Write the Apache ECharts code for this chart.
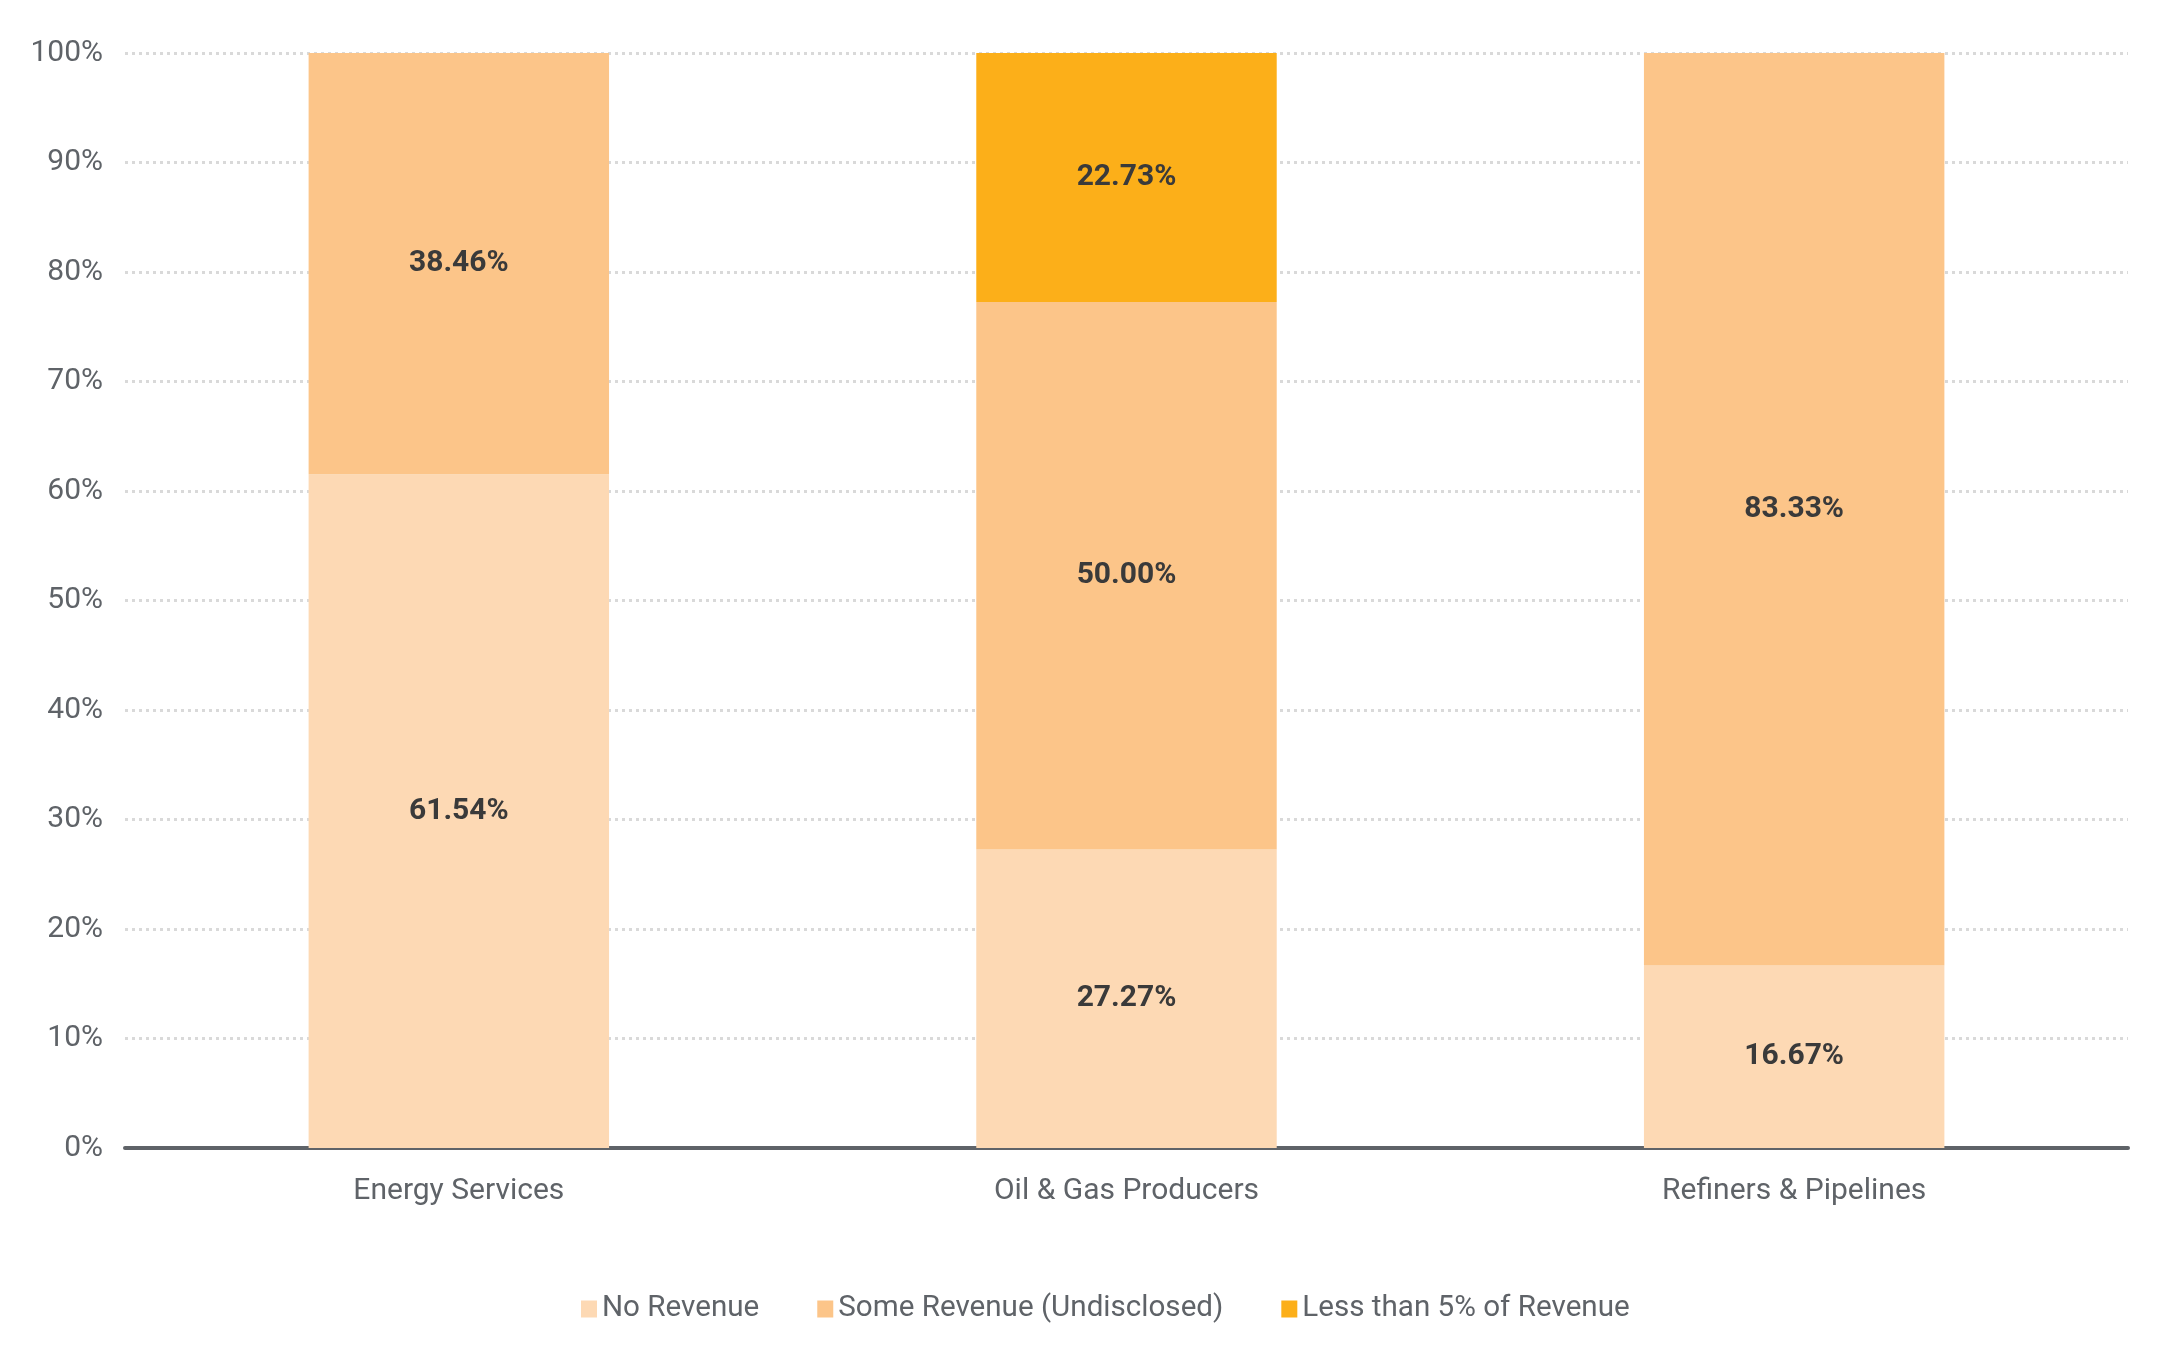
<!DOCTYPE html>
<html>
<head>
<meta charset="utf-8">
<style>
  html, body { margin: 0; padding: 0; background: #fff; }
  #chart { width: 2173px; height: 1355px; }
</style>
<script src="https://cdn.jsdelivr.net/npm/echarts@6/dist/echarts.min.js"></script>
</head>
<body>
<div id="chart"></div>
<script>
const categories = ['Energy Services', 'Oil & Gas Producers', 'Refiners & Pipelines'];
const seriesNames = ['No Revenue', 'Some Revenue (Undisclosed)', 'Less than 5% of Revenue'];
const noRevenue = [61.54, 27.27, 16.67];
const someRevenue = [38.46, 50.00, 83.33];
const lessThan5 = [null, 22.73, null];
const colors = ['#FDD9B4', '#FCC589', '#FCAF19'];
const yTicks = [0, 10, 20, 30, 40, 50, 60, 70, 80, 90, 100];

const FONT = 'Roboto';
const chart = echarts.init(document.getElementById('chart'));

function makeSeries(name, data, color) {
  return {
    name: name,
    type: 'bar',
    stack: 'total',
    data: data,
    barWidth: '45%',
    itemStyle: { color: color },
    label: {
      show: true,
      position: 'inside',
      fontFamily: FONT,
      fontWeight: 'bold',
      fontSize: 30,
      color: '#3a3a3a',
      formatter: p => (p.value == null ? '' : p.value.toFixed(2) + '%')
    },
    emphasis: { disabled: true }
  };
}

chart.setOption({
  animation: false,
  textStyle: { fontFamily: FONT },
  grid: { left: 125, right: 45, top: 53, bottom: 207, containLabel: false },
  legend: {
    bottom: 26,
    left: 576,
    itemWidth: 16,
    itemHeight: 17,
    itemGap: 58,
    icon: 'rect',
    textStyle: { fontFamily: FONT, fontSize: 29.6, color: '#5f6368' },
    data: seriesNames
  },
  xAxis: {
    type: 'category',
    data: categories,
    axisLine: { show: true, lineStyle: { color: '#5f6368', width: 4 } },
    axisTick: { show: false },
    axisLabel: { fontFamily: FONT, fontSize: 30, color: '#5f6368', margin: 28 }
  },
  yAxis: {
    type: 'value',
    min: yTicks[0],
    max: yTicks[yTicks.length - 1],
    interval: 10,
    axisLine: { show: false },
    axisTick: { show: false },
    axisLabel: {
      fontFamily: FONT, fontSize: 30, color: '#5f6368', margin: 22,
      formatter: v => v + '%'
    },
    splitLine: { show: true, lineStyle: { color: '#d9d9d9', width: 3, type: [3, 4] } }
  },
  series: [
    makeSeries(seriesNames[0], noRevenue, colors[0]),
    makeSeries(seriesNames[1], someRevenue, colors[1]),
    makeSeries(seriesNames[2], lessThan5, colors[2])
  ]
});
</script>
</body>
</html>
